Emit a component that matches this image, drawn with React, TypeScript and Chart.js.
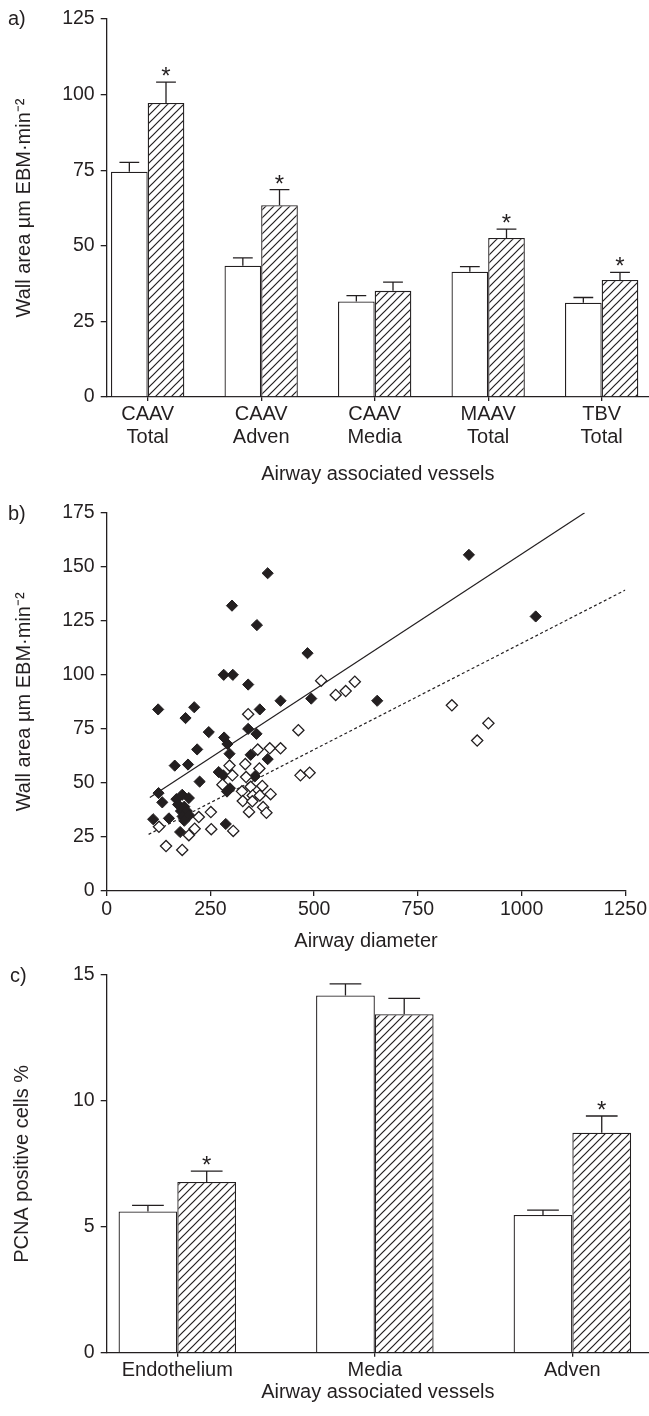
import React, { useEffect, useRef } from "react";
import { Chart, registerables } from "chart.js";
Chart.register(...registerables);

const FONT = '"Liberation Sans", Arial, Helvetica, sans-serif';
const INK = "#231f20";

// ---------- Panel a ----------
const catsA = [["CAAV", "Total"], ["CAAV", "Adven"], ["CAAV", "Media"], ["MAAV", "Total"], ["TBV", "Total"]];
const aWhite = [74.5, 43.4, 31.6, 41.4, 31.2];
const aWhiteErr = [3.1, 2.6, 1.9, 1.7, 1.7];
const aHatch = [97.2, 63.4, 35.1, 52.6, 38.7];
const aHatchErr = [6.9, 5.2, 2.9, 2.9, 2.5];
const aStar = [true, true, false, true, true];

// ---------- Panel b ----------
const filledPts: [number, number][] = [
  [873, 155.5], [388, 147], [1034, 127], [302, 132], [362, 123], [484, 110],
  [282, 100], [304, 100], [341, 95.5], [419, 88], [493, 89], [652, 88],
  [124, 84], [211, 85], [190, 80], [369, 84], [246, 73.5], [341, 75],
  [361, 72.7], [283, 71], [291, 68], [218, 65.5], [296, 63.5], [347, 63],
  [388, 61], [164, 58], [196, 58.5], [270, 55], [281, 53.5], [357, 53],
  [224, 50.6], [290, 46], [297, 47.5], [125, 45.3], [134, 41], [168, 42.5],
  [182, 44.5], [198, 43], [172, 40], [187, 39], [179, 37], [193, 37],
  [183, 34.5], [199, 35], [112, 33.2], [150, 33.6], [187, 32.5], [287, 31],
  [177, 27.3],
];
const openPts: [number, number][] = [
  [517, 97.3], [552, 90.7], [576, 92.5], [598, 96.8], [832, 85.9], [920, 77.6],
  [893, 69.6], [341, 81.8], [462, 74.4], [364, 65.4], [393, 66], [419, 66],
  [467, 53.5], [489, 54.7], [296, 58], [334, 58.7], [368, 56.7], [303, 53.5],
  [336, 52.7], [279, 49.2], [347, 48.2], [375, 48.6], [326, 46.1], [352, 44.2],
  [369, 44.2], [395, 44.8], [328, 41.6], [351, 41.5], [377, 38.8], [343, 36.6],
  [385, 36.2], [251, 36.5], [222, 34.2], [126, 29.7], [212, 28.8], [198, 25.8],
  [252, 28.6], [305, 27.8], [143, 20.8], [182, 19],
];
const fitSolid: [number, number][] = [[104, 43.2], [1152, 175]];
const fitDashed: [number, number][] = [[101, 26.2], [1250, 139.2]];

// ---------- Panel c ----------
const catsC = ["Endothelium", "Media", "Adven"];
const cWhite = [5.61, 14.19, 5.47];
const cWhiteErr = [0.24, 0.46, 0.19];
const cHatch = [6.78, 13.44, 8.74];
const cHatchErr = [0.43, 0.63, 0.66];
const cStar = [true, false, true];

const Y_TITLE_A = "Wall area µm EBM·min⁻²";
const X_TITLE = "Airway associated vessels";

const NUM_SIZE = 19.5;
const TXT_SIZE = 20;

function makeHatch(): CanvasPattern | string {
  const s = 8;
  const c = document.createElement("canvas");
  c.width = s;
  c.height = s;
  const g = c.getContext("2d");
  if (!g) return "#fff";
  g.fillStyle = "#fff";
  g.fillRect(0, 0, s, s);
  g.strokeStyle = INK;
  g.lineWidth = 1.2;
  g.beginPath();
  g.moveTo(-1, s + 1);
  g.lineTo(s + 1, -1);
  g.moveTo(-2, 2);
  g.lineTo(2, -2);
  g.moveTo(s - 2, s + 2);
  g.lineTo(s + 2, s - 2);
  g.stroke();
  return g.createPattern(c, "repeat") || "#fff";
}

function makeErrPlugin(vals: number[][], errs: number[][], stars: (boolean[] | null)[]) {
  return {
    id: "errbars",
    afterDatasetsDraw(chart: any) {
      const ctx = chart.ctx;
      const y = chart.scales.y;
      ctx.save();
      ctx.strokeStyle = INK;
      ctx.fillStyle = INK;
      ctx.lineWidth = 1.3;
      ctx.font = `24px ${FONT}`;
      ctx.textAlign = "center";
      ctx.textBaseline = "alphabetic";
      errs.forEach((arr, di) => {
        const meta = chart.getDatasetMeta(di);
        meta.data.forEach((bar: any, j: number) => {
          const p = bar.getProps(["x", "y", "width"], true);
          const top = y.getPixelForValue(vals[di][j] + arr[j]);
          const half = p.width * 0.27;
          ctx.beginPath();
          ctx.moveTo(p.x, p.y);
          ctx.lineTo(p.x, top);
          ctx.moveTo(p.x - half, top);
          ctx.lineTo(p.x + half, top);
          ctx.stroke();
          const st = stars[di];
          if (st && st[j]) ctx.fillText("*", p.x, top + 2);
        });
      });
      ctx.restore();
    },
  };
}

function barConfig(o: any) {
  return {
    type: "bar",
    data: {
      datasets: [
        {
          data: o.white.map((v: number, i: number) => ({ x: i, y: v })),
          backgroundColor: "#fff",
          borderColor: INK,
          borderWidth: 1.3,
          categoryPercentage: o.catPct,
          barPercentage: 1,
        },
        {
          data: o.hatch.map((v: number, i: number) => ({ x: i, y: v })),
          backgroundColor: o.pattern,
          borderColor: INK,
          borderWidth: 1.3,
          categoryPercentage: o.catPct,
          barPercentage: 1,
        },
      ],
    },
    options: {
      responsive: false,
      animation: false,
      layout: { padding: { top: o.padTop, left: 0, right: 0, bottom: 0 } },
      plugins: { legend: { display: false }, tooltip: { enabled: false } },
      scales: {
        x: {
          type: "linear",
          min: o.xMin,
          max: o.xMax,
          offset: false,
          grid: { display: true, drawOnChartArea: false, offset: false, color: INK, lineWidth: 1.3, tickLength: 4 },
          border: { color: INK, width: 1.3 },
          ticks: {
            font: { size: TXT_SIZE, lineHeight: 1.135 },
            padding: 2,
            color: INK,
            maxRotation: 0,
            autoSkip: false,
            callback: (v: number) => o.cats[Math.round(v)] ?? "",
          },
          afterBuildTicks: (s: any) => {
            s.ticks = o.cats.map((_: any, i: number) => ({ value: i }));
          },
          afterFit: (s: any) => {
            s.height = o.xHeight;
          },
          title: { display: true, text: X_TITLE, font: { size: TXT_SIZE, lineHeight: 1.2 }, padding: 0, color: INK },
        },
        y: {
          min: 0,
          max: o.yMax,
          ticks: { stepSize: o.yStep, font: { size: NUM_SIZE }, padding: 6, color: INK, callback: (v: number) => String(v) },
          grid: { drawOnChartArea: false, color: INK, lineWidth: 1.3, tickLength: 6 },
          border: { color: INK, width: 1.3 },
          afterFit: (s: any) => {
            s.width = 106.7;
          },
          title: {
            display: true,
            text: o.yTitle,
            font: { size: TXT_SIZE, lineHeight: 1.2 },
            padding: { top: o.yTitlePad, bottom: 0 },
            color: INK,
          },
        },
      },
    },
    plugins: [makeErrPlugin([o.white, o.hatch], [o.whiteErr, o.hatchErr], [null, o.stars])],
  };
}

export default function App() {
  const refA = useRef<HTMLCanvasElement>(null);
  const refB = useRef<HTMLCanvasElement>(null);
  const refC = useRef<HTMLCanvasElement>(null);

  useEffect(() => {
    Chart.defaults.font.family = FONT;
    Chart.defaults.color = INK;
    const pattern = makeHatch();
    const charts: Chart[] = [];

    charts.push(
      new Chart(
        refA.current as HTMLCanvasElement,
        barConfig({
          cats: catsA,
          white: aWhite,
          whiteErr: aWhiteErr,
          hatch: aHatch,
          hatchErr: aHatchErr,
          stars: aStar,
          yMax: 125,
          yStep: 25,
          yTitle: Y_TITLE_A,
          xMin: -0.361,
          xMax: 4.417,
          catPct: 0.646,
          padTop: 19,
          xHeight: 89,
          yTitlePad: 12,
          pattern,
        }) as any
      )
    );

    charts.push(
      new Chart(refB.current as HTMLCanvasElement, {
        type: "scatter",
        data: {
          datasets: [
            {
              data: openPts.map(([x, y]) => ({ x, y })),
              pointStyle: "rectRot",
              pointRadius: 5.6,
              backgroundColor: "#fff",
              borderColor: INK,
              borderWidth: 1.3,
            },
            {
              data: filledPts.map(([x, y]) => ({ x, y })),
              pointStyle: "rectRot",
              pointRadius: 5.6,
              backgroundColor: INK,
              borderColor: INK,
              borderWidth: 1,
            },
            {
              type: "line",
              data: fitSolid.map(([x, y]) => ({ x, y })),
              showLine: true,
              borderColor: INK,
              borderWidth: 1.2,
              pointRadius: 0,
              fill: false,
            },
            {
              type: "line",
              data: fitDashed.map(([x, y]) => ({ x, y })),
              showLine: true,
              borderColor: INK,
              borderWidth: 1.2,
              borderDash: [3, 2.5],
              pointRadius: 0,
              fill: false,
            },
          ],
        } as any,
        options: {
          responsive: false,
          animation: false,
          layout: { padding: { top: 25.7, left: 0, right: 20, bottom: 0 } },
          plugins: { legend: { display: false }, tooltip: { enabled: false } },
          scales: {
            x: {
              type: "linear",
              min: 0,
              max: 1250,
              grid: { drawOnChartArea: false, color: INK, lineWidth: 1.3, tickLength: 5 },
              border: { color: INK, width: 1.3 },
              ticks: {
                stepSize: 250,
                font: { size: NUM_SIZE, lineHeight: 1.2 },
                padding: 2,
                color: INK,
                maxRotation: 0,
                callback: (v: number) => String(v),
              },
              afterFit: (s: any) => {
                s.height = 62;
              },
              title: { display: true, text: "Airway diameter", font: { size: TXT_SIZE, lineHeight: 1.2 }, padding: 0, color: INK },
            },
            y: {
              min: 0,
              max: 175,
              ticks: { stepSize: 25, font: { size: NUM_SIZE }, padding: 6, color: INK, callback: (v: number) => String(v) },
              grid: { drawOnChartArea: false, color: INK, lineWidth: 1.3, tickLength: 6 },
              border: { color: INK, width: 1.3 },
              afterFit: (s: any) => {
                s.width = 106.7;
              },
              title: {
                display: true,
                text: Y_TITLE_A,
                font: { size: TXT_SIZE, lineHeight: 1.2 },
                padding: { top: 12, bottom: 0 },
                color: INK,
              },
            },
          },
        } as any,
      })
    );

    charts.push(
      new Chart(
        refC.current as HTMLCanvasElement,
        barConfig({
          cats: catsC,
          white: cWhite,
          whiteErr: cWhiteErr,
          hatch: cHatch,
          hatchErr: cHatchErr,
          stars: cStar,
          yMax: 15,
          yStep: 5,
          yTitle: "PCNA positive cells %",
          xMin: -0.3575,
          xMax: 2.388,
          catPct: 0.595,
          padTop: 20,
          xHeight: 51.3,
          yTitlePad: 10,
          pattern,
        }) as any
      )
    );

    return () => charts.forEach((c) => c.destroy());
  }, []);

  const lbl: React.CSSProperties = {
    position: "absolute",
    fontFamily: FONT,
    fontSize: 20,
    lineHeight: "22px",
    color: INK,
  };

  return (
    <div style={{ position: "absolute", left: 0, top: 0, width: 649, height: 1416, background: "#fff", overflow: "hidden" }}>
      <canvas ref={refA} width={649} height={486} style={{ position: "absolute", left: 0, top: 0 }} />
      <canvas ref={refB} width={649} height={466} style={{ position: "absolute", left: 0, top: 487 }} />
      <canvas ref={refC} width={649} height={449} style={{ position: "absolute", left: 0, top: 955 }} />
      <div style={{ ...lbl, left: 8, top: 7 }}>a)</div>
      <div style={{ ...lbl, left: 8, top: 502 }}>b)</div>
      <div style={{ ...lbl, left: 10, top: 964 }}>c)</div>
    </div>
  );
}
